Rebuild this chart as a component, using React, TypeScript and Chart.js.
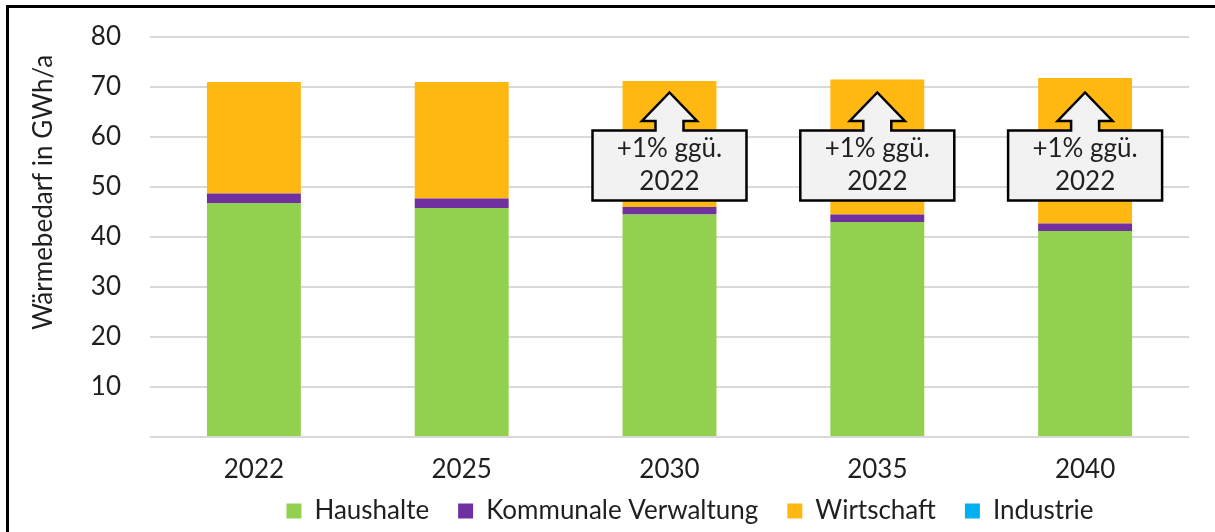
import React, { useEffect, useRef } from "react";
import { Chart, registerables } from "chart.js";

Chart.register(...registerables);

const categories = ["2022", "2025", "2030", "2035", "2040"];
const haushalte = [46.8, 45.8, 44.5, 43.0, 41.2];
const kommunale = [1.9, 1.9, 1.5, 1.5, 1.5];
const wirtschaft = [22.3, 23.3, 25.2, 27.0, 29.1];
const industrie = [0, 0, 0, 0, 0];
const seriesNames = ["Haushalte", "Kommunale Verwaltung", "Wirtschaft", "Industrie"];
const yMin = 0;
const yMax = 80;
const yStep = 10;
const yTitle = "Wärmebedarf in GWh/a";
const calloutCategories = ["2030", "2035", "2040"];
const calloutLines = ["+1% ggü.", "2022"];
// callout vertical extents in data units
const calloutTip = 68.9;
const calloutHeadBase = 63.2;
const calloutTop = 61.3;
const calloutBottom = 47.3;

const FONT = "Lato, 'Open Sans', sans-serif";
const TEXT = "#1f1f1f";
const LEGEND_PAD = 29;
const X_AXIS_H = 52;
const LEGEND_H = 26 + LEGEND_PAD + 10;

const framePlugin = {
  id: "frame",
  afterDraw(chart: any) {
    const ctx = chart.ctx;
    ctx.save();
    ctx.fillStyle = "#000";
    ctx.fillRect(6, 5, 3, chart.height - 5);
    ctx.fillRect(6, 5, chart.width - 6, 3);
    ctx.restore();
  },
};

const yTitlePlugin = {
  id: "yTitle",
  afterDraw(chart: any) {
    const ctx = chart.ctx;
    ctx.save();
    ctx.translate(52, 192.5);
    ctx.rotate(-Math.PI / 2);
    ctx.font = `26px ${FONT}`;
    ctx.fillStyle = TEXT;
    ctx.textAlign = "center";
    ctx.textBaseline = "alphabetic";
    ctx.fillText(yTitle, 0, 0);
    ctx.restore();
  },
};

const legendShiftPlugin = {
  id: "legendShift",
  afterLayout(chart: any) {
    const lg = chart.legend;
    if (!lg) return;
    const dx = 690 - (lg.left + lg.right) / 2;
    lg.left += dx;
    lg.right += dx;
    // text centre = top + padding + fontSize/2  -> aim ~510
    const newTop = 511 - LEGEND_PAD - 13;
    const h = lg.bottom - lg.top;
    lg.top = newTop;
    lg.bottom = newTop + h;
  },
};

const calloutPlugin = {
  id: "callouts",
  afterDatasetsDraw(chart: any) {
    const ctx = chart.ctx;
    const xs = chart.scales.x;
    const ys = chart.scales.y;
    const tip = ys.getPixelForValue(calloutTip);
    const headBase = ys.getPixelForValue(calloutHeadBase);
    const top = ys.getPixelForValue(calloutTop);
    const bottom = ys.getPixelForValue(calloutBottom);
    const halfW = 77;
    const stem = 14;
    const head = 27.5;
    calloutCategories.forEach((cat) => {
      const idx = categories.indexOf(cat);
      const cx = xs.getPixelForValue(idx);
      ctx.save();
      ctx.beginPath();
      ctx.moveTo(cx - halfW, top);
      ctx.lineTo(cx - stem, top);
      ctx.lineTo(cx - stem, headBase);
      ctx.lineTo(cx - head, headBase);
      ctx.lineTo(cx, tip);
      ctx.lineTo(cx + head, headBase);
      ctx.lineTo(cx + stem, headBase);
      ctx.lineTo(cx + stem, top);
      ctx.lineTo(cx + halfW, top);
      ctx.lineTo(cx + halfW, bottom);
      ctx.lineTo(cx - halfW, bottom);
      ctx.closePath();
      ctx.fillStyle = "#F2F2F2";
      ctx.fill();
      ctx.lineWidth = 2.5;
      ctx.lineJoin = "miter";
      ctx.strokeStyle = "#000";
      ctx.stroke();
      ctx.font = `26px ${FONT}`;
      ctx.fillStyle = TEXT;
      ctx.textAlign = "center";
      ctx.textBaseline = "middle";
      const mid = (top + bottom) / 2;
      ctx.fillText(calloutLines[0], cx, mid - 17);
      ctx.fillText(calloutLines[1], cx, mid + 16);
      ctx.restore();
    });
  },
};

export default function App() {
  const ref = useRef<HTMLCanvasElement | null>(null);
  useEffect(() => {
    document.body.style.margin = "0";
    const canvas = ref.current!;
    const colors = ["#92D050", "#7030A0", "#FFB711", "#00B0F0"];
    const values = [haushalte, kommunale, wirtschaft, industrie];
    const chart = new Chart(canvas, {
      type: "bar",
      data: {
        labels: categories,
        datasets: seriesNames.map((name, i) => ({
          label: name,
          data: values[i],
          backgroundColor: colors[i],
          borderWidth: 0,
          categoryPercentage: 1,
          barPercentage: 0.452,
        })),
      },
      options: {
        animation: false,
        responsive: false,
        maintainAspectRatio: false,
        layout: {
          padding: { left: 0, right: 26, top: 37, bottom: 532 - 437 - X_AXIS_H - LEGEND_H },
        },
        scales: {
          x: {
            stacked: true,
            grid: { display: false },
            border: { display: false },
            ticks: { font: { family: FONT, size: 26 }, color: TEXT, padding: 9 },
            afterFit: (s: any) => {
              s.height = X_AXIS_H;
            },
          },
          y: {
            stacked: true,
            min: yMin,
            max: yMax,
            border: { display: false },
            grid: { color: "#D9D9D9", lineWidth: 2, drawTicks: false },
            ticks: {
              stepSize: yStep,
              padding: 29,
              font: { family: FONT, size: 26 },
              color: TEXT,
              callback: (v: any) => (v === 0 ? "" : String(v)),
            },
            afterFit: (s: any) => {
              s.width = 150;
              s.paddingTop = 0;
              s.paddingBottom = 0;
            },
          },
        },
        plugins: {
          legend: {
            position: "bottom",
            labels: {
              boxWidth: 15,
              boxHeight: 15,
              padding: LEGEND_PAD,
              font: { family: FONT, size: 26 },
              color: TEXT,
            },
          },
          tooltip: { enabled: false },
        },
      },
      plugins: [legendShiftPlugin, calloutPlugin, yTitlePlugin, framePlugin],
    });
    return () => chart.destroy();
  }, []);
  return (
    <div style={{ width: 1215, height: 532, background: "#fff" }}>
      <canvas ref={ref} width={1215} height={532} />
    </div>
  );
}
